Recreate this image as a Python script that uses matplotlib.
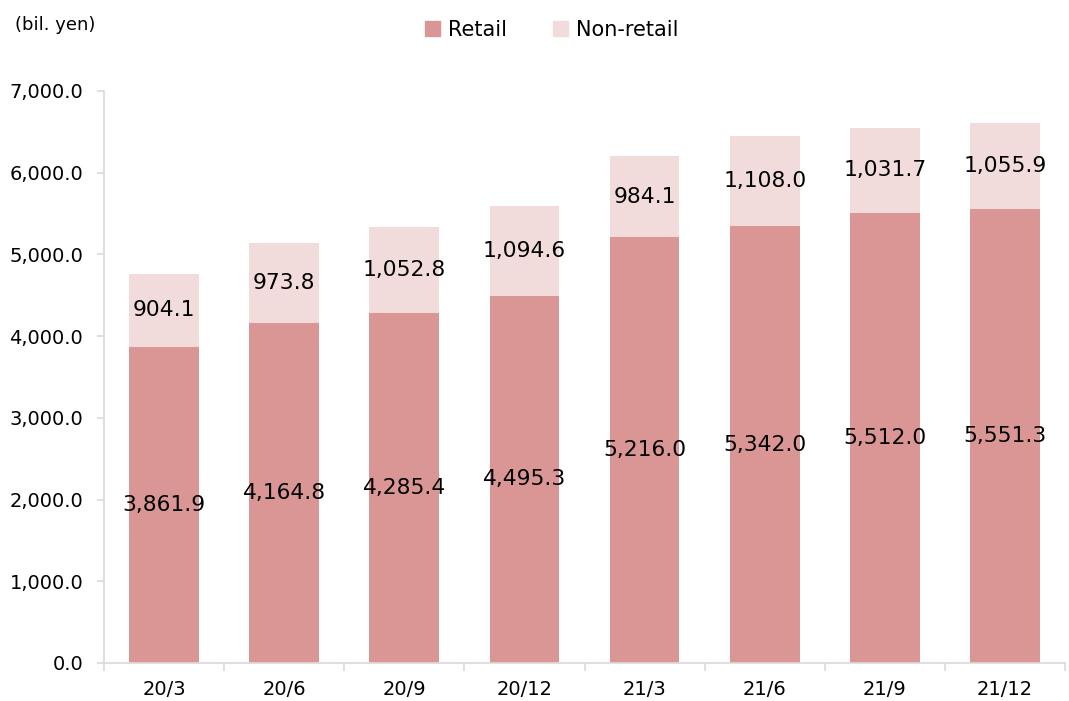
import matplotlib
matplotlib.use("Agg")
import matplotlib.pyplot as plt
from matplotlib.patches import Patch
import numpy as np

categories = ["20/3", "20/6", "20/9", "20/12", "21/3", "21/6", "21/9", "21/12"]
retail = [3861.9, 4164.8, 4285.4, 4495.3, 5216.0, 5342.0, 5512.0, 5551.3]
non_retail = [904.1, 973.8, 1052.8, 1094.6, 984.1, 1108.0, 1031.7, 1055.9]

c_retail = "#D99694"
c_non = "#F2DCDB"
spine_c = "#D9D9D9"

plt.rcParams["font.family"] = ["DejaVu Sans"]

fig = plt.figure(figsize=(10.69, 7.01), dpi=100)
ax = fig.add_axes([104/1069, 38/701, (1065-104)/1069, (663-91)/701])

x = np.arange(len(categories))
w = 0.58
ax.bar(x, retail, width=w, color=c_retail, zorder=2)
ax.bar(x, non_retail, width=w, bottom=retail, color=c_non, zorder=2)

for xi, r, n in zip(x, retail, non_retail):
    ax.text(xi, r/2, f"{r:,.1f}", ha="center", va="center", fontsize=15.7, color="black", zorder=3)
    ax.text(xi, r + n/2, f"{n:,.1f}", ha="center", va="center", fontsize=15.7, color="black", zorder=3)

ax.set_xlim(-0.5, len(categories) - 0.5)
ax.set_ylim(0, 7000)
ax.set_yticks(np.arange(0, 7001, 1000))
ax.set_yticklabels([f"{v:,.1f}" for v in np.arange(0, 7001, 1000)], fontsize=14)
ax.set_xticks(x)
ax.set_xticklabels(categories, fontsize=14)
ax.set_xticks(np.arange(-0.5, len(categories), 1), minor=True)
ax.tick_params(axis="x", which="major", length=0, pad=12)
ax.tick_params(axis="x", which="minor", length=6, color=spine_c, width=1.2)
ax.tick_params(axis="y", which="major", length=5, color=spine_c, width=1.2, pad=10)

for s in ["top", "right"]:
    ax.spines[s].set_visible(False)
for s in ["left", "bottom"]:
    ax.spines[s].set_color(spine_c)
    ax.spines[s].set_linewidth(1.2)

fig.text(15/1069, 1 - 25/701, "(bil. yen)", fontsize=13, ha="left", va="center")

handles = [Patch(color=c_retail, label="Retail"), Patch(color=c_non, label="Non-retail")]
fig.legend(handles=handles, loc="center", bbox_to_anchor=(552/1069, 1 - 30/701), ncol=2,
           frameon=False, fontsize=15, handlelength=0.7, handleheight=0.7,
           handletextpad=0.4, columnspacing=2.2)

fig.savefig("out.png", dpi=100)
